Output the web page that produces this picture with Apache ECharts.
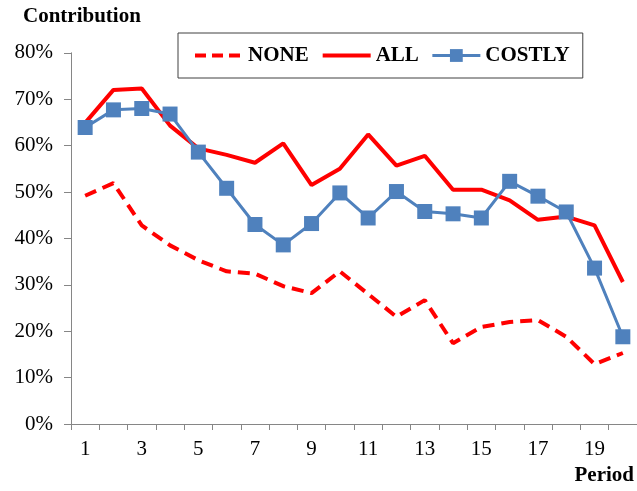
<!DOCTYPE html>
<html>
<head>
<meta charset="utf-8">
<script src="https://cdn.jsdelivr.net/npm/echarts@6/dist/echarts.min.js"></script>
<style>html,body{margin:0;padding:0;background:#fff}#c{width:637px;height:491px}</style>
</head>
<body>
<div id="c"></div>
<script>
var periods = ['1','2','3','4','5','6','7','8','9','10','11','12','13','14','15','16','17','18','19','20'];
var noneVals = [49.2, 51.9, 42.8, 38.5, 35.3, 32.9, 32.4, 29.7, 28.2, 32.9, 28.0, 23.1, 26.7, 17.4, 20.9, 22.0, 22.4, 18.8, 12.9, 15.3];
var allVals = [64.9, 72.0, 72.3, 64.3, 59.4, 58.0, 56.3, 60.5, 51.5, 55.0, 62.4, 55.7, 57.8, 50.5, 50.5, 48.2, 44.0, 44.7, 42.8, 30.6];
var costlyVals = [63.9, 67.7, 68.0, 66.8, 58.6, 50.8, 43.0, 38.6, 43.2, 49.8, 44.4, 50.1, 45.8, 45.3, 44.4, 52.3, 49.1, 45.7, 33.6, 18.8];
var yTicks = [0, 10, 20, 30, 40, 50, 60, 70, 80];

var font = '"Liberation Serif", "Times New Roman", serif';
var axisColor = '#868686';
var noSym = {color: 'rgba(0,0,0,0)', borderWidth: 0};
var chart = echarts.init(document.getElementById('c'), null, {renderer: 'canvas'});
chart.setOption({
  animation: false,
  backgroundColor: '#fff',
  grid: {left: 71, right: 0, top: 52.8, bottom: 67, containLabel: false},
  legend: {
    left: 178, top: 33,
    padding: [12, 13, 12, 15],
    itemGap: 12,
    itemWidth: 48, itemHeight: 16,
    borderColor: '#404040', borderWidth: 1,
    textStyle: {fontFamily: font, fontWeight: 'bold', fontSize: 21, color: '#000'},
    data: [
      {name: 'NONE', itemStyle: noSym, lineStyle: {width: 4, type: [11, 6], color: '#FF0000'}},
      {name: 'ALL', itemStyle: noSym, lineStyle: {width: 4, color: '#FF0000'}},
      {name: 'COSTLY', lineStyle: {width: 3, color: '#4F81BD'}}
    ]
  },
  graphic: [
    {type: 'text', left: 23, top: 6, style: {text: 'Contribution', font: 'bold 21px ' + font, fill: '#000'}},
    {type: 'text', right: 3, top: 465, style: {text: 'Period', font: 'bold 21px ' + font, fill: '#000'}}
  ],
  xAxis: {
    type: 'category',
    data: periods,
    boundaryGap: true,
    axisLine: {lineStyle: {color: axisColor, width: 1}},
    axisTick: {show: true, interval: 0, length: 6, lineStyle: {color: axisColor}},
    axisLabel: {interval: 1, margin: 15, fontFamily: font, fontSize: 21, color: '#000'},
    splitLine: {show: false}
  },
  yAxis: {
    type: 'value',
    min: 0, max: 80, interval: 10,
    axisLine: {show: true, lineStyle: {color: axisColor, width: 1}},
    axisTick: {show: true, length: 7, lineStyle: {color: axisColor}},
    axisLabel: {margin: 18, fontFamily: font, fontSize: 21, color: '#000', formatter: function (v) { return yTicks.indexOf(v) >= 0 ? v + '%' : ''; }},
    splitLine: {show: false}
  },
  series: [
    {name: 'NONE', type: 'line', data: noneVals, symbol: 'none', z: 2,
     lineStyle: {color: '#FF0000', width: 4, type: [12, 7]}, itemStyle: {color: '#FF0000'}},
    {name: 'ALL', type: 'line', data: allVals, symbol: 'none', z: 3,
     lineStyle: {color: '#FF0000', width: 4}, itemStyle: {color: '#FF0000'}},
    {name: 'COSTLY', type: 'line', data: costlyVals, symbol: 'rect', symbolSize: 15, z: 4,
     lineStyle: {color: '#4F81BD', width: 3}, itemStyle: {color: '#4F81BD'}}
  ]
});
</script>
</body>
</html>
